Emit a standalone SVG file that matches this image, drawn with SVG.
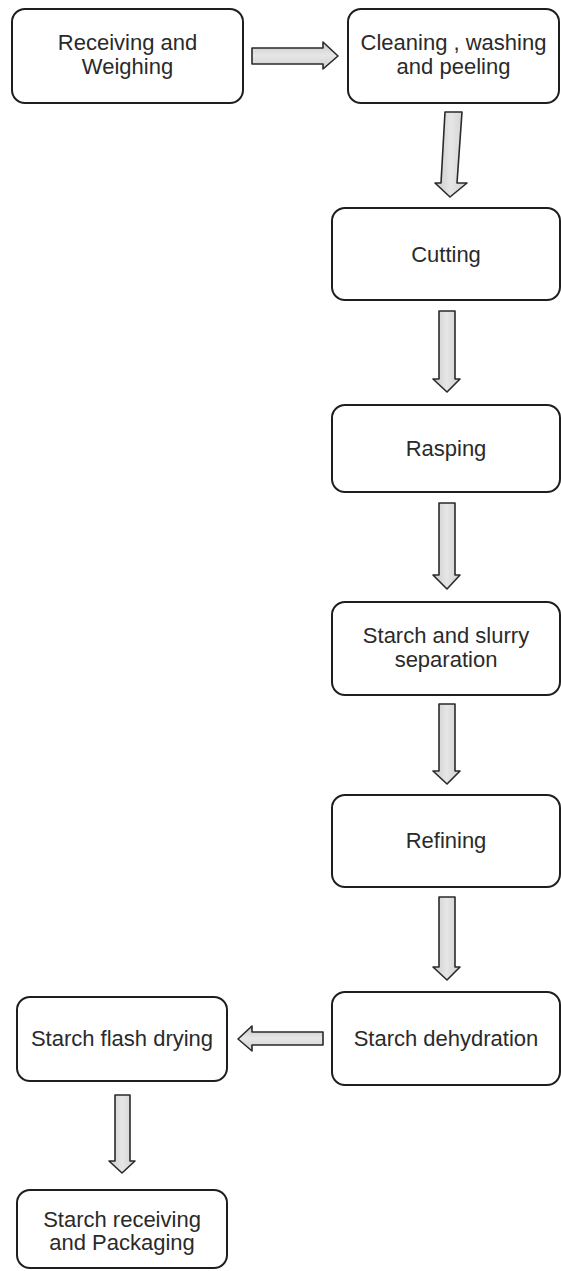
<svg xmlns="http://www.w3.org/2000/svg" width="561" height="1271" viewBox="0 0 561 1271">
  <defs>
    <linearGradient id="arrowFillV" x1="0" y1="0" x2="1" y2="0">
      <stop offset="0" stop-color="#c9c9c9"/>
      <stop offset="0.5" stop-color="#e6e6e6"/>
      <stop offset="1" stop-color="#cfcfcf"/>
    </linearGradient>
    <linearGradient id="arrowFillH" x1="0" y1="0" x2="0" y2="1">
      <stop offset="0" stop-color="#c9c9c9"/>
      <stop offset="0.5" stop-color="#e6e6e6"/>
      <stop offset="1" stop-color="#cfcfcf"/>
    </linearGradient>
  </defs>
  <style>
    .box { fill: #ffffff; stroke: #1e1e1e; stroke-width: 2; }
    .label { font-family: "Liberation Sans", Arial, sans-serif; font-size: 22px; fill: #2a2a2a; text-anchor: middle; }
    .arrow-v { fill: url(#arrowFillV); stroke: #2a2a2a; stroke-width: 1.6; stroke-linejoin: round; }
    .arrow-h { fill: url(#arrowFillH); stroke: #2a2a2a; stroke-width: 1.6; stroke-linejoin: round; }
  </style>
  <rect width="561" height="1271" fill="#ffffff"/>

  <!-- process steps -->
  <g id="receiving">
    <rect class="box" x="12" y="9" width="231" height="94" rx="13"/>
    <text class="label" x="127.5" y="50">Receiving and</text>
    <text class="label" x="127.5" y="74">Weighing</text>
  </g>
  <g id="cleaning">
    <rect class="box" x="348" y="9" width="211" height="94" rx="13"/>
    <text class="label" x="453.5" y="50">Cleaning , washing</text>
    <text class="label" x="453.5" y="74">and peeling</text>
  </g>
  <g id="cutting">
    <rect class="box" x="332" y="208" width="228" height="92" rx="13"/>
    <text class="label" x="446" y="262">Cutting</text>
  </g>
  <g id="rasping">
    <rect class="box" x="332" y="405" width="228" height="87" rx="13"/>
    <text class="label" x="446" y="456">Rasping</text>
  </g>
  <g id="separation">
    <rect class="box" x="332" y="602" width="228" height="93" rx="13"/>
    <text class="label" x="446" y="643">Starch and slurry</text>
    <text class="label" x="446" y="667">separation</text>
  </g>
  <g id="refining">
    <rect class="box" x="332" y="795" width="228" height="92" rx="13"/>
    <text class="label" x="446" y="848">Refining</text>
  </g>
  <g id="dehydration">
    <rect class="box" x="332" y="992" width="228" height="93" rx="13"/>
    <text class="label" x="446" y="1046">Starch dehydration</text>
  </g>
  <g id="flash-drying">
    <rect class="box" x="17" y="997" width="210" height="84" rx="13"/>
    <text class="label" x="122" y="1046">Starch flash drying</text>
  </g>
  <g id="packaging">
    <rect class="box" x="17" y="1190" width="210" height="78" rx="13"/>
    <text class="label" x="122" y="1227">Starch receiving</text>
    <text class="label" x="122" y="1250">and Packaging</text>
  </g>

  <!-- block arrows between steps -->
  <g id="connectors">
    <polygon class="arrow-h" points="252,48 323,48 323,42 338,56 323,69 323,64 252,64"/>
    <polygon class="arrow-v" points="445,112 462,112 457,183 467,183 450,197 435,183 441,183"/>
    <polygon class="arrow-v" points="439,311 455,311 455,379 460,379 447,392 433,379 439,379"/>
    <polygon class="arrow-v" points="439,503 455,503 455,575 460,575 447,589 433,575 439,575"/>
    <polygon class="arrow-v" points="439,704 455,704 455,771 460,771 447,784 433,771 439,771"/>
    <polygon class="arrow-v" points="439,897 455,897 455,967 460,967 447,980 433,967 439,967"/>
    <polygon class="arrow-h" points="323,1032 323,1045 252,1045 252,1051 238,1039 252,1026 252,1032"/>
    <polygon class="arrow-v" points="115,1095 130,1095 130,1161 135,1161 122,1173 109,1161 115,1161"/>
  </g>
</svg>
